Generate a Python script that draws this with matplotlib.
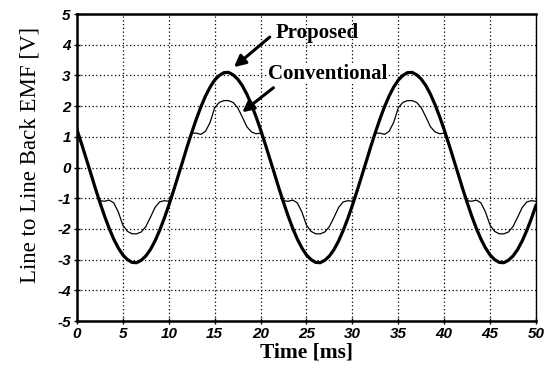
import matplotlib
matplotlib.use("Agg")
import matplotlib.pyplot as plt

# time axis [ms], sampled every 0.5 ms
time_ms = [
    0.0, 0.5, 1.0, 1.5, 2.0, 2.5, 3.0, 3.5, 4.0, 4.5,
    5.0, 5.5, 6.0, 6.5, 7.0, 7.5, 8.0, 8.5, 9.0, 9.5,
    10.0, 10.5, 11.0, 11.5, 12.0, 12.5, 13.0, 13.5, 14.0, 14.5,
    15.0, 15.5, 16.0, 16.5, 17.0, 17.5, 18.0, 18.5, 19.0, 19.5,
    20.0, 20.5, 21.0, 21.5, 22.0, 22.5, 23.0, 23.5, 24.0, 24.5,
    25.0, 25.5, 26.0, 26.5, 27.0, 27.5, 28.0, 28.5, 29.0, 29.5,
    30.0, 30.5, 31.0, 31.5, 32.0, 32.5, 33.0, 33.5, 34.0, 34.5,
    35.0, 35.5, 36.0, 36.5, 37.0, 37.5, 38.0, 38.5, 39.0, 39.5,
    40.0, 40.5, 41.0, 41.5, 42.0, 42.5, 43.0, 43.5, 44.0, 44.5,
    45.0, 45.5, 46.0, 46.5, 47.0, 47.5, 48.0, 48.5, 49.0, 49.5,
    50.0,
]

proposed = [
    1.23, 0.77, 0.29, -0.19, -0.68, -1.14, -1.58, -1.98, -2.33, -2.62,
    -2.85, -3.00, -3.09, -3.10, -3.02, -2.88, -2.67, -2.39, -2.05, -1.66,
    -1.23, -0.77, -0.29, 0.19, 0.68, 1.14, 1.58, 1.98, 2.33, 2.62,
    2.85, 3.00, 3.09, 3.10, 3.02, 2.88, 2.67, 2.39, 2.05, 1.66,
    1.23, 0.77, 0.29, -0.19, -0.68, -1.14, -1.58, -1.98, -2.33, -2.62,
    -2.85, -3.00, -3.09, -3.10, -3.02, -2.88, -2.67, -2.39, -2.05, -1.66,
    -1.23, -0.77, -0.29, 0.19, 0.68, 1.14, 1.58, 1.98, 2.33, 2.62,
    2.85, 3.00, 3.09, 3.10, 3.02, 2.88, 2.67, 2.39, 2.05, 1.66,
    1.23, 0.77, 0.29, -0.19, -0.68, -1.14, -1.58, -1.98, -2.33, -2.62,
    -2.85, -3.00, -3.09, -3.10, -3.02, -2.88, -2.67, -2.39, -2.05, -1.66,
    -1.23,
]

conventional = [
    1.12, 0.77, 0.29, -0.19, -0.68, -1.08, -1.10, -1.06, -1.15, -1.45,
    -1.88, -2.08, -2.16, -2.16, -2.10, -1.92, -1.62, -1.30, -1.12, -1.08,
    -1.10, -0.77, -0.29, 0.19, 0.68, 1.12, 1.12, 1.08, 1.18, 1.47,
    1.95, 2.12, 2.18, 2.18, 2.12, 1.95, 1.65, 1.33, 1.16, 1.10,
    1.12, 0.77, 0.29, -0.19, -0.68, -1.08, -1.10, -1.06, -1.15, -1.45,
    -1.88, -2.08, -2.16, -2.16, -2.10, -1.92, -1.62, -1.30, -1.12, -1.08,
    -1.10, -0.77, -0.29, 0.19, 0.68, 1.12, 1.12, 1.08, 1.18, 1.47,
    1.95, 2.12, 2.18, 2.18, 2.12, 1.95, 1.65, 1.33, 1.16, 1.10,
    1.12, 0.77, 0.29, -0.19, -0.68, -1.08, -1.10, -1.06, -1.15, -1.45,
    -1.88, -2.08, -2.16, -2.16, -2.10, -1.92, -1.62, -1.30, -1.12, -1.08,
    -1.10,
]

x_ticks = [0, 5, 10, 15, 20, 25, 30, 35, 40, 45, 50]
y_ticks = [-5, -4, -3, -2, -1, 0, 1, 2, 3, 4, 5]

serif = "Liberation Serif"
tick_font = dict(family="Liberation Sans", weight="bold", style="italic", size=11)

fig = plt.figure(figsize=(5.52, 3.69), dpi=100)
ax = fig.add_axes([0.1395, 0.130, 0.8315, 0.832])

ax.plot(time_ms, conventional, color="black", lw=0.9, zorder=3)
ax.plot(time_ms, proposed, color="black", lw=2.3, zorder=4)

ax.set_xlim(0, 50)
ax.set_ylim(-5, 5)
ax.set_xticks(x_ticks)
ax.set_yticks(y_ticks)
ax.set_xticklabels([str(v) for v in x_ticks], fontdict=tick_font)
ax.set_yticklabels([str(v) for v in y_ticks], fontdict=tick_font)
ax.tick_params(direction="inout", length=5, width=1, pad=2)
ax.grid(True, color="black", linestyle=(0, (1, 2)), lw=0.9)

for side in ["left", "bottom", "top"]:
    ax.spines[side].set_linewidth(1.8)
ax.spines["right"].set_linewidth(1.0)

ax.set_xlabel("Time [ms]", family=serif, weight="bold", fontsize=15.5, labelpad=1)
ax.set_ylabel("Line to Line Back EMF [V]", family=serif, fontsize=16.5)
ax.yaxis.set_label_coords(-0.08, 0.54)

arrow = dict(arrowstyle="-|>", color="black", lw=2.2, mutation_scale=17, shrinkA=0, shrinkB=0)
ax.annotate("", xy=(17.1, 3.27), xytext=(21.0, 4.25), arrowprops=arrow, zorder=5)
ax.annotate("", xy=(18.0, 1.8), xytext=(21.4, 2.6), arrowprops=arrow, zorder=5)
ax.text(21.6, 4.38, "Proposed", family=serif, weight="bold", fontsize=15,
        ha="left", va="center", zorder=6)
ax.text(20.8, 3.05, "Conventional", family=serif, weight="bold", fontsize=15,
        ha="left", va="center", zorder=6,
        bbox=dict(facecolor="white", edgecolor="none", pad=0))

fig.savefig("out.png", dpi=100)
